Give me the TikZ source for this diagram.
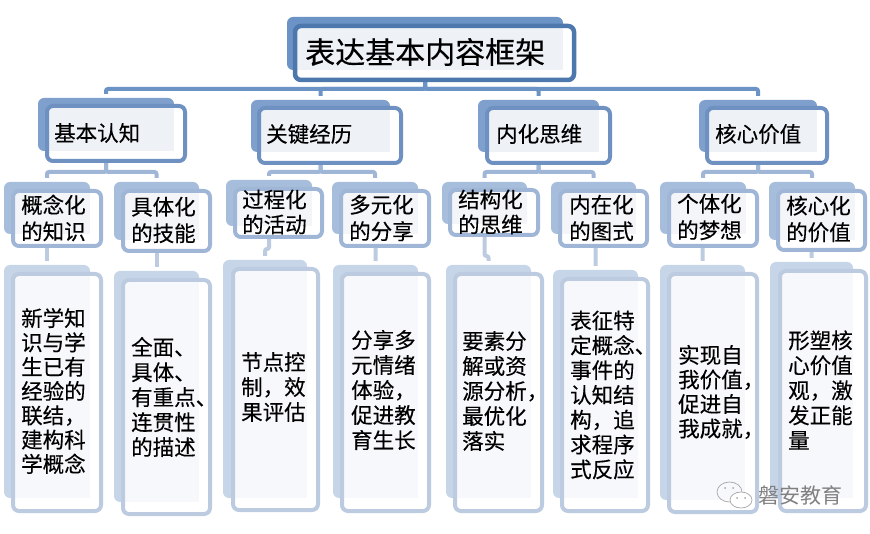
\documentclass[tikz,border=0pt]{standalone}
\usepackage{fontspec}
\newfontfamily\cjk[FakeBold=0.25]{Noto Sans CJK SC}
\newfontfamily\cjkplain{Noto Sans CJK SC}
\usetikzlibrary{calc,backgrounds}
\definecolor{rootback}{HTML}{6B93C6}
\definecolor{rootline}{HTML}{4C78AE}
\definecolor{twoback}{HTML}{7F9FCC}
\definecolor{twoline}{HTML}{6E91C1}
\definecolor{threeback}{HTML}{A6BDDC}
\definecolor{threeline}{HTML}{A0B6D7}
\definecolor{fourback}{HTML}{C7D5E9}
\definecolor{fourline}{HTML}{BDCBE0}
\definecolor{tintA}{HTML}{EEF1F6}
\definecolor{tintB}{HTML}{F3F5F9}
\definecolor{tintC}{HTML}{F7F8FB}
\tikzset{
  x=1pt,y=-1pt,
  boxshape/.style={rectangle,rounded corners=6pt,inner sep=0pt,outer sep=0pt},
  rootbk/.style={boxshape,fill=rootback},
  twobk/.style={boxshape,fill=twoback},
  threebk/.style={boxshape,fill=threeback},
  fourbk/.style={boxshape,fill=fourback},
  rootln/.style={draw=rootline,line width=4.5pt,rounded corners=6pt},
  twoln/.style={draw=twoline,line width=4pt,rounded corners=6pt},
  threeln/.style={draw=threeline,line width=4pt,rounded corners=6pt},
  fourln/.style={draw=fourline,line width=4pt,rounded corners=6pt},
  roottint/.style={fill=tintA},
  twotint/.style={fill=tintA},
  threetint/.style={fill=tintB},
  fourtint/.style={fill=tintC},
  linkA/.style={draw=rootback,line width=4pt,rounded corners=2pt,shorten >=4pt},
  linkB/.style={draw=threeline,line width=4pt,rounded corners=2pt,shorten >=4pt},
  linkC/.style={draw=fourline,line width=4pt,rounded corners=2pt,shorten >=4pt},
  label/.style={anchor=west,align=left,inner sep=0pt,text=black},
}
\newcommand\bk[6]{\node[#1bk,minimum width={#5-#3},minimum height={#6-#4}] (#2b) at ({(#3+#5)/2},{(#4+#6)/2}) {};}
\newcommand\fr[6]{%
  \node[boxshape,fill=white,minimum width={#5-#3-4},minimum height={#6-#4-4}] (#2) at ({(#3+#5)/2},{(#4+#6)/2}) {};
  \fill[#1tint] (#2.north west) rectangle (#2b.south east);
  \draw[#1ln] (#2.north west) rectangle (#2.south east);}
\newcommand\tx[6]{\node[label,font=\cjk\fontsize{#4}{#5}\selectfont] (#1) at (#2,#3) {#6};}
\begin{document}
\begin{tikzpicture}
\useasboundingbox (0,0) rectangle (870,534);
% root
\bk{root}{r}{287}{17}{563}{70}\fr{root}{r}{293}{24}{576}{82}
% level 2
\bk{two}{a}{38}{98}{174}{151}\fr{two}{a}{45}{104}{187}{163}
\bk{two}{c}{251}{100}{390}{152}\fr{two}{c}{257}{106}{403}{165}
\bk{two}{e}{478}{100}{599}{152}\fr{two}{e}{485}{106}{612}{165}
\bk{two}{g}{699}{100}{817}{152}\fr{two}{g}{705}{106}{829}{165}
% level 3
\bk{three}{a1}{4}{182}{90}{234}\fr{three}{a1}{11}{189}{103}{248}
\bk{three}{a2}{114}{182}{199}{240}\fr{three}{a2}{121}{189}{212}{253}
\bk{three}{c1}{226}{180}{312}{226}\fr{three}{c1}{233}{187}{324}{239}
\bk{three}{c2}{332}{182}{418}{234}\fr{three}{c2}{339}{189}{431}{248}
\bk{three}{e1}{442}{182}{527}{224}\fr{three}{e1}{448}{188}{540}{237}
\bk{three}{e2}{551}{182}{636}{234}\fr{three}{e2}{558}{189}{649}{248}
\bk{three}{g1}{660}{182}{746}{234}\fr{three}{g1}{667}{189}{759}{248}
\bk{three}{g2}{769}{182}{855}{240}\fr{three}{g2}{776}{189}{867}{252}
% level 4
\bk{four}{a3}{4}{265}{90}{498}\fr{four}{a3}{11}{272}{103}{513}
\bk{four}{a4}{114}{271}{199}{502}\fr{four}{a4}{121}{278}{212}{516}
\bk{four}{c3}{223}{260}{307}{498}\fr{four}{c3}{231}{267}{320}{512}
\bk{four}{c4}{333}{265}{418}{498}\fr{four}{c4}{340}{272}{431}{513}
\bk{four}{e3}{446}{265}{531}{498}\fr{four}{e3}{453}{272}{544}{513}
\bk{four}{e4}{553}{270}{638}{498}\fr{four}{e4}{560}{277}{650}{513}
\bk{four}{g3}{660}{265}{745}{500}\fr{four}{g3}{667}{272}{759}{514}
\bk{four}{g4}{770}{262}{853}{498}\fr{four}{g4}{778}{269}{868}{513}
% connectors
\begin{pgfonlayer}{background}
\coordinate (busA) at (0,89);
\coordinate (busB) at (0,172);
\foreach \k in {a,c,e,g}{
  \draw[linkA] (rb.south) -- (rb.south |- busA) -| (\k b.north);
}
\foreach \k/\p/\q in {a/a1/a2,c/c1/c2,e/e1/e2,g/g1/g2}{
  \draw[linkB] (\k b.south) -- (\k b.south |- busB) -| (\p b.north);
  \draw[linkB] (\k b.south) -- (\k b.south |- busB) -| (\q b.north);
}
\foreach \p/\q in {a1/a3,a2/a4,c2/c4,e2/e4,g1/g3,g2/g4}{
  \draw[linkC] (\p b.south) -- (\p b.south -| \q b.north) -- (\q b.north);
}
\draw[linkC] (c1b.south) |- ($(c3b.north)+(0,-11)$) -- (c3b.north);
\draw[linkC] (e1b.south) |- ($(e3b.north)+(0,-9)$) -- (e3b.north);
\end{pgfonlayer}
% texts
\tx{tr}{305}{52}{30}{34}{表达基本内容框架}
\tx{ta}{54}{133}{21.5}{26}{基本认知}
\tx{tc}{266}{134}{21.5}{26}{关键经历}
\tx{te}{496}{134}{21.5}{26}{内化思维}
\tx{tg}{715}{134}{21.5}{26}{核心价值}
\tx{ta1}{21}{218}{21.5}{26.5}{概念化\\的知识}
\tx{ta2}{131}{220}{21.5}{26.5}{具体化\\的技能}
\tx{tc1}{242}{212}{21.5}{25}{过程化\\的活动}
\tx{tc2}{349}{218}{21.5}{26.5}{多元化\\的分享}
\tx{te1}{458}{212}{21.5}{25}{结构化\\的思维}
\tx{te2}{569}{218}{21.5}{26.5}{内在化\\的图式}
\tx{tg1}{677}{217}{21.5}{26.5}{个体化\\的梦想}
\tx{tg2}{786}{219}{21.5}{26.5}{核心化\\的价值}
\tx{ta3}{21}{391}{21.5}{24.3}{新学知\\识与学\\生已有\\经验的\\联结，\\建构科\\学概念}
\tx{ta4}{131}{397}{21.5}{25}{全面、\\具体、\\有重点、\\连贯性\\的描述}
\tx{tc3}{241}{387}{21.5}{25}{节点控\\制，效\\果评估}
\tx{tc4}{351}{390}{21.5}{25}{分享多\\元情绪\\体验，\\促进教\\育生长}
\tx{te3}{462}{391}{21.5}{25}{要素分\\解或资\\源分析，\\最优化\\落实}
\tx{te4}{570}{395}{21.5}{24.8}{表征特\\定概念、\\事件的\\认知结\\构，追\\求程序\\式反应}
\tx{tg3}{678}{392}{21.5}{24.5}{实现自\\我价值，\\促进自\\我成就，}
\tx{tg4}{788}{390}{21.5}{25}{形塑核\\心价值\\观，激\\发正能\\量}
% watermark
\draw[gray!70,line width=0.7pt] (729.5,492) ellipse [x radius=12.5,y radius=10];
\draw[gray!70,line width=0.7pt,fill=white] (741,500) ellipse [x radius=11,y radius=8];
\fill[gray!70] (725,488) circle (1) (733,488) circle (1) (737,498) circle (1) (745,498) circle (1);
\node[label,font=\cjkplain\fontsize{21}{24}\selectfont,text=black!50] (wm) at (758,495) {磐安教育};
\end{tikzpicture}
\end{document}
